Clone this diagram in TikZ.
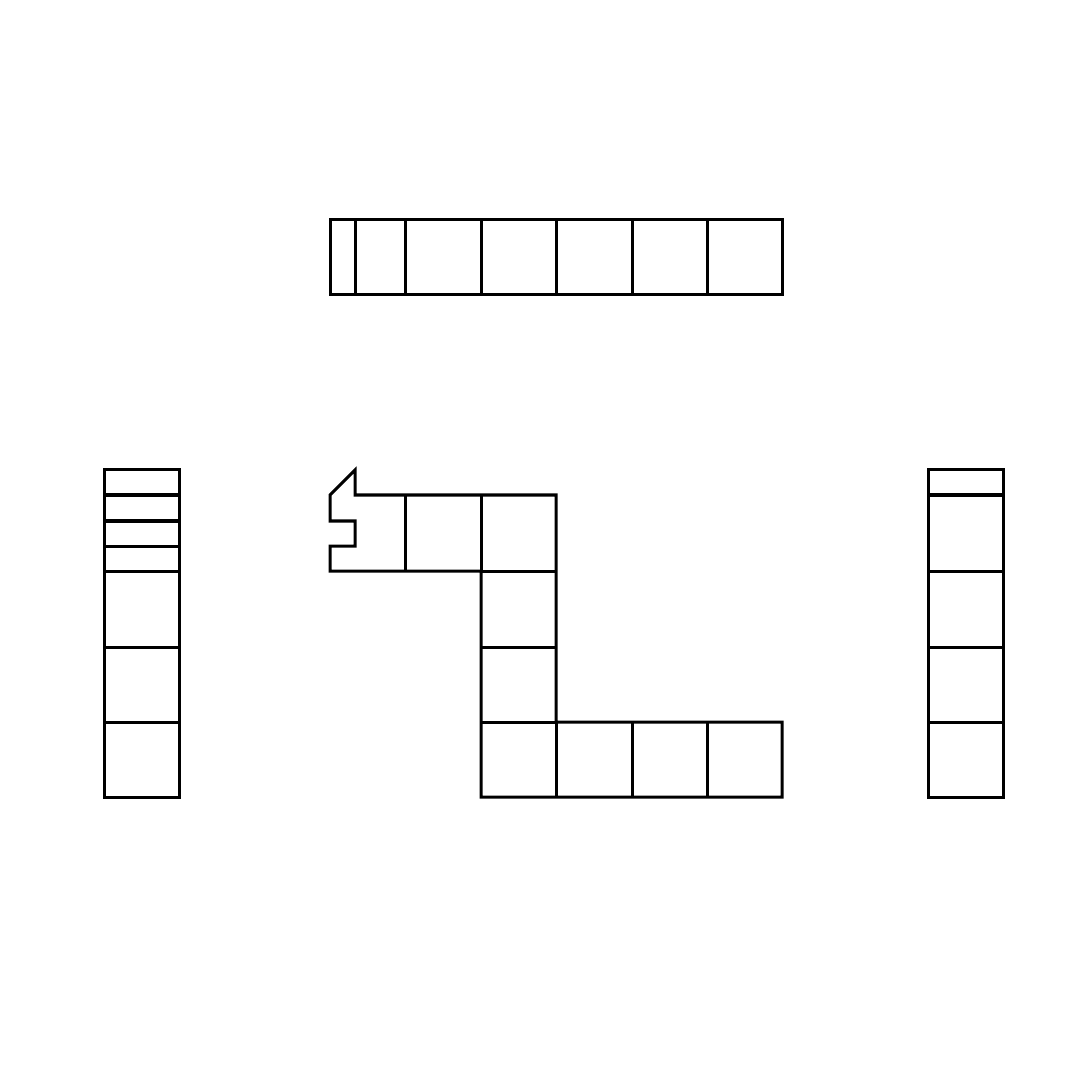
\documentclass[tikz,border=0pt]{standalone}
\begin{document}
\begin{tikzpicture}[x=0.01cm,y=-0.01cm,line width=0.03cm,
  cell/.style={draw=black}]
\useasboundingbox (0,0) rectangle (1080,1080);
% top row
\draw[cell] (330,220) rectangle (782,295);
\foreach \x in {355,405,481,556,632,707}
  \draw[cell] (\x,220) -- (\x,295);
% left column
\draw[cell] (104,470) rectangle (179,797);
\foreach \y in {495,521,546,571,647,722}
  \draw[cell] (104,\y) -- (179,\y);
% right column
\draw[cell] (928,470) rectangle (1003,797);
\foreach \y in {495,571,647,722}
  \draw[cell] (928,\y) -- (1003,\y);
% middle piece
\draw[cell] (355,470) -- (330,495) -- (330,521) -- (355,521) -- (355,546)
  -- (330,546) -- (330,571) -- (481,571) -- (481,797) -- (782,797)
  -- (782,722) -- (556,722) -- (556,495) -- (355,495) -- cycle;
\draw[cell] (405,495) -- (405,571);
\draw[cell] (481,495) -- (481,571);
\foreach \y in {571,647,722}
  \draw[cell] (481,\y) -- (556,\y);
\foreach \x in {556,632,707}
  \draw[cell] (\x,722) -- (\x,797);
\end{tikzpicture}
\end{document}
